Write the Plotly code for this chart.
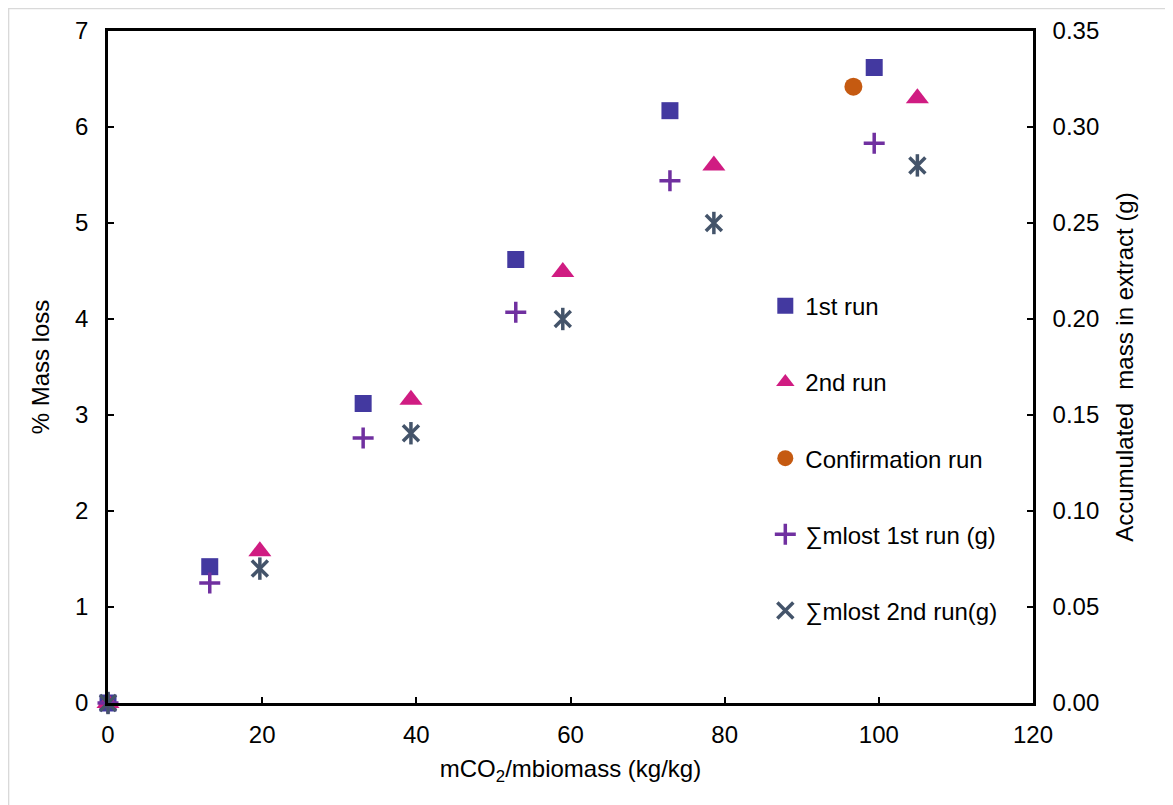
import plotly.graph_objects as go

# Data
x_run1 = [0, 13.2, 33.1, 52.9, 72.9, 99.4]
y_run1 = [0, 1.42, 3.12, 4.62, 6.17, 6.62]

x_run2 = [0, 19.7, 39.3, 59.0, 78.6, 105.0]
y_run2 = [0, 1.58, 3.16, 4.49, 5.60, 6.30]

x_conf = [96.7]
y_conf = [6.42]

x_mlost1 = [0, 13.2, 33.1, 52.9, 72.9, 99.4]
y_mlost1 = [0, 0.0625, 0.138, 0.2035, 0.272, 0.2915]

x_mlost2 = [0, 19.7, 39.3, 59.0, 78.6, 105.0]
y_mlost2 = [0, 0.0700, 0.1405, 0.2000, 0.2500, 0.2800]

FONT = "Liberation Sans, Arial, sans-serif"
FS = 24

fig = go.Figure()

fig.add_trace(go.Scatter(
    x=x_run1, y=y_run1, mode="markers", name="1st run", legendgroup="a",
    marker=dict(symbol="square", size=17, color="#4339A0",
                line=dict(width=0)), cliponaxis=False))
fig.add_trace(go.Scatter(
    x=x_run2, y=y_run2, mode="markers", name="2nd run", legendgroup="b",
    marker=dict(symbol="triangle-up", size=20, color="#D01C82",
                line=dict(width=0)), cliponaxis=False))
fig.add_trace(go.Scatter(
    x=x_conf, y=y_conf, mode="markers", name="Confirmation run", legendgroup="c",
    marker=dict(symbol="circle", size=18, color="#C55A11",
                line=dict(width=0)), cliponaxis=False))
fig.add_trace(go.Scatter(
    x=x_mlost1, y=y_mlost1, mode="markers", name="∑mlost 1st run (g)", legendgroup="d",
    yaxis="y2",
    marker=dict(symbol="cross-thin-open", size=15, color="#7030A0",
                line=dict(width=3.5, color="#7030A0")), cliponaxis=False))
fig.add_trace(go.Scatter(
    x=x_mlost2, y=y_mlost2, mode="markers", name="∑mlost 2nd run(g)", legendgroup="e",
    yaxis="y2",
    marker=dict(symbol="x-thin-open", size=16, color="#44546A",
                line=dict(width=3.5, color="#44546A")), cliponaxis=False))
fig.add_trace(go.Scatter(
    x=x_mlost2, y=y_mlost2, mode="markers", name="∑mlost 2nd run(g)", legendgroup="e",
    yaxis="y2", showlegend=False,
    marker=dict(symbol="line-ns-open", size=16, color="#44546A",
                line=dict(width=3.5, color="#44546A")), cliponaxis=False))

axis_common = dict(
    showline=True, linecolor="black", linewidth=2.5,
    ticks="inside", ticklen=6, tickwidth=1.5, tickcolor="black",
    showgrid=False, zeroline=False, automargin=False,
    tickfont=dict(family=FONT, size=FS, color="black"),
)

fig.update_layout(
    width=1173, height=805,
    margin=dict(l=100, r=148, t=23, b=110),
    paper_bgcolor="white", plot_bgcolor="white",
    font=dict(family=FONT, size=FS, color="black"),
    xaxis=dict(range=[0, 120], dtick=20, mirror=True, ticklabelstandoff=8,
               title=dict(text="mCO<sub>2</sub>/mbiomass (kg/kg)",
                          font=dict(family=FONT, size=FS), standoff=14),
               **axis_common),
    yaxis=dict(range=[0, 7], dtick=1, ticklabelstandoff=12,
               title=dict(text="% Mass loss", font=dict(family=FONT, size=FS), standoff=19),
               **axis_common),
    yaxis2=dict(range=[0, 0.35], dtick=0.05, tickformat=".2f",
                overlaying="y", side="right", ticklabelstandoff=12,
                title=dict(text="Accumulated  mass in extract (g)",
                           font=dict(family=FONT, size=FS), standoff=18),
                **axis_common),
    legend=dict(x=0.7106, y=0.624, xanchor="left", yanchor="top",
                bgcolor="rgba(0,0,0,0)", tracegroupgap=42,
                font=dict(family=FONT, size=FS, color="black"),
                itemsizing="trace"),
    shapes=[dict(type="rect", xref="paper", yref="paper",
                 x0=-0.1075, x1=1.159, y0=-0.163, y1=1.0335,
                 line=dict(color="#D9D9D9", width=1.5), layer="below")],
)

fig.write_html("out.html")
